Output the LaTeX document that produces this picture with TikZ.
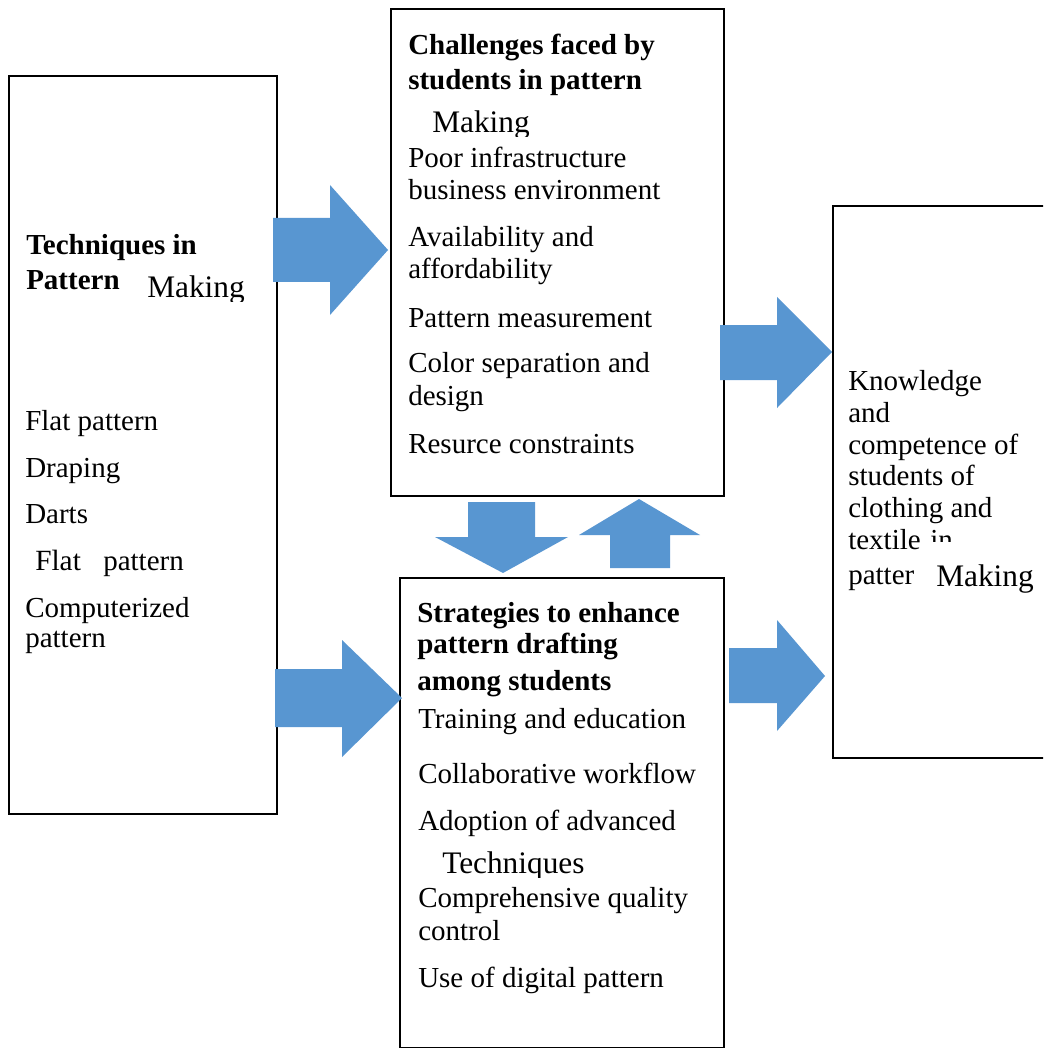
\documentclass[tikz,border=0pt]{standalone}
\usepackage{fontspec}
\setmainfont{Liberation Serif}
\definecolor{arrowblue}{RGB}{88,150,209}
\begin{document}
\begin{tikzpicture}[x=0.75pt,y=-0.75pt,
  box/.style={draw=black,line width=1.5pt,fill=white,inner sep=0pt,anchor=north west},
  blockarrow/.style={fill=arrowblue,draw=none},
  txt/.style={anchor=base west,inner sep=0pt,font=\fontsize{21.75}{24}\selectfont},
  hd/.style={anchor=base west,inner sep=0pt,font=\fontsize{21.75}{24}\selectfont\bfseries},
  ins/.style={anchor=base west,inner sep=0pt,font=\fontsize{23.5}{26}\selectfont}]
\clip (0,0) rectangle (1043,1048);
\fill[white] (0,0) rectangle (1043,1048);
% boxes
\node[box,minimum width=201pt,minimum height=553.5pt] (L) at (8,75) {};
\node[box,minimum width=249.75pt,minimum height=365.25pt] (T) at (390,8) {};
\node[box,minimum width=243pt,minimum height=352.5pt] (B) at (399,577) {};
\node[box,minimum width=165pt,minimum height=414pt] (R) at (832,205) {};
% block arrows
\fill[blockarrow] (273,218) -- (330,218) -- (330,185) -- (388,250) -- (330,315) -- (330,282) -- (273,282) -- cycle;
\fill[blockarrow] (275,669) -- (342,669) -- (342,640) -- (402,698) -- (342,757) -- (342,727) -- (275,727) -- cycle;
\fill[blockarrow] (720,325) -- (777,325) -- (777,297) -- (832,352) -- (777,408) -- (777,380) -- (720,380) -- cycle;
\fill[blockarrow] (729,648) -- (777,648) -- (777,620) -- (825,676) -- (777,731) -- (777,703) -- (729,703) -- cycle;
\fill[blockarrow] (468,502) -- (535,502) -- (535,537) -- (568,537) -- (503,573) -- (435,537) -- (468,537) -- cycle;
\fill[blockarrow] (610,568) -- (670,568) -- (670,535) -- (700,535) -- (639,499) -- (579,535) -- (610,535) -- cycle;
% left box text
\node[hd] (l1) at (26,255) {Techniques in};
\node[hd] (l2) at (26,290) {Pattern};
\begin{scope}\clip (140,260) rectangle (260,302);
\node[ins] (l3) at (147,298) {Making};
\end{scope}
\node[txt] (l4) at (25,430) {Flat pattern};
\node[txt] (l5) at (25,477) {Draping};
\node[txt] (l6) at (25,523) {Darts};
\node[ins,font=\fontsize{22}{24}\selectfont] (l7) at (35,570) {Flat};
\node[txt] (l8) at (103,570) {pattern};
\node[txt] (l9) at (25,617) {Computerized};
\node[txt] (l10) at (25,647) {pattern};
% top box text
\node[hd] (t1) at (408,55) {Challenges faced by};
\node[hd] (t2) at (408,90) {students in pattern};
\begin{scope}\clip (425,100) rectangle (560,137);
\node[ins] (t3) at (432,133) {Making};
\end{scope}
\node[txt] (t4) at (408,168) {Poor infrastructure};
\node[txt] (t5) at (408,200) {business environment};
\node[txt] (t6) at (408,247) {Availability and};
\node[txt] (t7) at (408,279) {affordability};
\node[txt] (t8) at (408,327) {Pattern measurement};
\node[txt] (t9) at (408,372) {Color separation and};
\node[txt] (t10) at (408,405) {design};
\node[txt] (t11) at (408,453) {Resurce constraints};
% bottom box text
\node[hd] (b1) at (417,622) {Strategies to enhance};
\node[hd] (b2) at (417,653) {pattern drafting};
\node[hd] (b3) at (417,690) {among students};
\node[txt] (b4) at (418,728) {Training and education};
\node[txt] (b5) at (418,783) {Collaborative workflow};
\node[txt] (b6) at (418,830) {Adoption of advanced};
\begin{scope}\clip (435,840) rectangle (600,877);
\node[ins] (b7) at (442,873) {Techniques};
\end{scope}
\node[txt] (b8) at (418,907) {Comprehensive quality};
\node[txt] (b9) at (418,940) {control};
\node[txt] (b10) at (418,987) {Use of digital pattern};
% right box text
\node[txt] (r1) at (848,390) {Knowledge};
\node[txt] (r2) at (848,422) {and};
\node[txt] (r3) at (848,454) {competence of};
\node[txt] (r4) at (848,485) {students of};
\node[txt] (r5) at (848,517) {clothing and};
\node[txt] (r6) at (848,549) {textile};
\begin{scope}\clip (925,520) rectangle (970,541);
\node[txt] (r7) at (930,549) {in};
\end{scope}
\node[txt] (r8) at (848,584) {patter};
\node[ins] (r9) at (936,586) {Making};
\end{tikzpicture}
\end{document}
